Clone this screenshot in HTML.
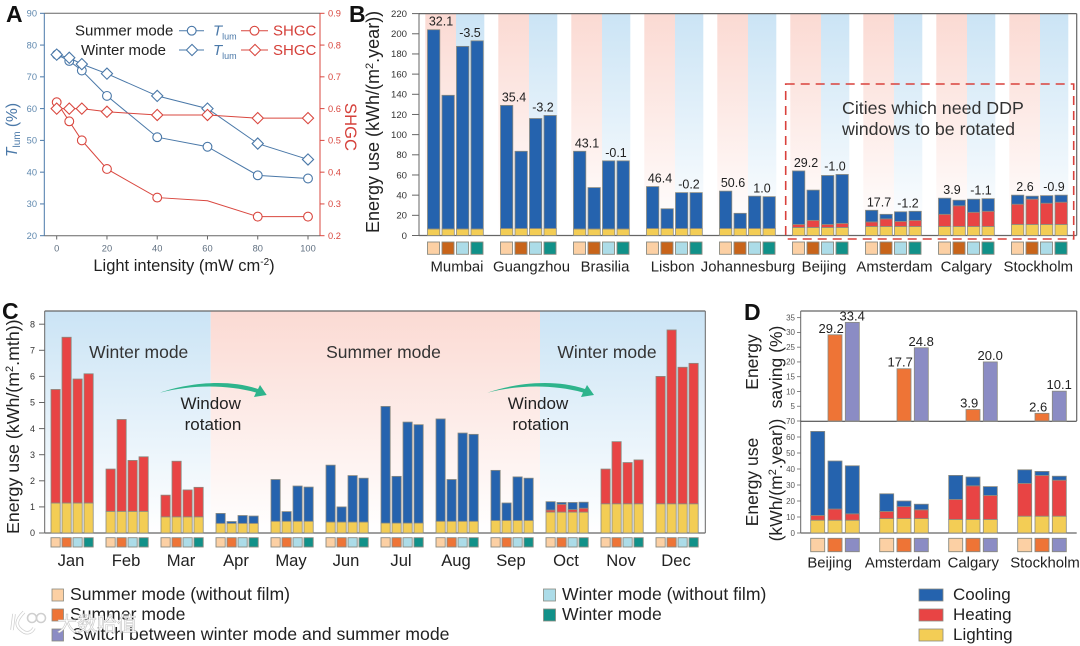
<!DOCTYPE html>
<html lang="en">
<head>
<meta charset="utf-8">
<title>Energy use of DDP windows</title>
<style>
html,body{margin:0;padding:0;background:#fff;}
svg{display:block;font-family:"Liberation Sans","Noto Sans CJK SC",sans-serif;filter:blur(0.35px);}
</style>
</head>
<body>
<svg id="fig" xmlns="http://www.w3.org/2000/svg" width="1080" height="646" viewBox="0 0 1080 646">
<defs>
<linearGradient id="pinkG" x1="0" y1="0" x2="0" y2="1"><stop offset="0" stop-color="#fbdad3"/><stop offset="1" stop-color="#ffffff"/></linearGradient>
<linearGradient id="blueG" x1="0" y1="0" x2="0" y2="1"><stop offset="0" stop-color="#cbe4f5"/><stop offset="1" stop-color="#ffffff"/></linearGradient>
</defs>
<g id="bgLayer"></g>
<g id="markLayer"></g>

<!-- panel letters -->
<text x="6" y="22" font-size="23" font-weight="bold" fill="#111">A</text>
<text x="349" y="22" font-size="23" font-weight="bold" fill="#111">B</text>
<text x="2" y="319" font-size="23" font-weight="bold" fill="#111">C</text>
<text x="744" y="320" font-size="23" font-weight="bold" fill="#111">D</text>

<!-- panel A text -->
<text x="184" y="271" text-anchor="middle" font-size="16.5" fill="#222">Light intensity (mW cm<tspan font-size="10" dy="-6">-2</tspan><tspan dy="6">)</tspan></text>
<text transform="translate(17,157) rotate(-90)" font-size="15.5" fill="#4a78a8"><tspan font-style="italic">T</tspan><tspan font-size="10" dy="3">lum</tspan><tspan dy="-3"> (%)</tspan></text>
<text transform="translate(345,127) rotate(90)" text-anchor="middle" font-size="16.6" fill="#d5403a">SHGC</text>
<text x="75" y="35.5" font-size="15" fill="#222">Summer mode</text>
<text x="81" y="55" font-size="15" fill="#222">Winter mode</text>
<text x="213" y="35.5" font-size="15" fill="#4a78a8"><tspan font-style="italic">T</tspan><tspan font-size="9" dy="4">lum</tspan></text>
<text x="213" y="55" font-size="15" fill="#4a78a8"><tspan font-style="italic">T</tspan><tspan font-size="9" dy="4">lum</tspan></text>
<text x="273" y="35.5" font-size="15" fill="#d5403a">SHGC</text>
<text x="273" y="55" font-size="15" fill="#d5403a">SHGC</text>

<!-- panel B text -->
<text transform="translate(379,233) rotate(-90)" font-size="18" fill="#222">Energy use (kWh/(m<tspan font-size="11" dy="-6">2</tspan><tspan dy="6">.year))</tspan></text>
<rect x="785.7" y="84" width="288" height="155" fill="none" stroke="#d9413c" stroke-width="1.6" stroke-dasharray="9 6"/>
<text font-size="17.8" fill="#333"><tspan x="842" y="114">Cities which need DDP</tspan><tspan x="842" y="135">windows to be rotated</tspan></text>

<!-- panel C text -->
<text transform="translate(19,534) rotate(-90)" font-size="17.8" fill="#222">Energy use (kWh/(m<tspan font-size="11" dy="-6">2</tspan><tspan dy="6">.mth))</tspan></text>
<text x="138.7" y="358" text-anchor="middle" font-size="17.5" fill="#333">Winter mode</text>
<text x="383.5" y="358" text-anchor="middle" font-size="17.5" fill="#333">Summer mode</text>
<text x="607" y="358" text-anchor="middle" font-size="17.5" fill="#333">Winter mode</text>
<text font-size="17" fill="#222" text-anchor="middle"><tspan x="210.7" y="409">Window</tspan><tspan x="213" y="430">rotation</tspan></text>
<text font-size="17" fill="#222" text-anchor="middle"><tspan x="538" y="409">Window</tspan><tspan x="540.7" y="430">rotation</tspan></text>
<path fill="#2eb48c" d="M160,392.7 C185,384 225,378 258,389 L260,385 L266.7,395 L254,397 L256,392.5 C225,384 190,385 160,392.7 Z"/>
<path fill="#2eb48c" d="M487.3,392.7 C512,384 552,378 585,389 L587,385 L594,395 L581,397 L583,392.5 C552,384 517,385 487.3,392.7 Z"/>

<!-- panel D text -->
<text transform="translate(758,362) rotate(-90)" text-anchor="middle" font-size="17.5" fill="#222">Energy</text>
<text transform="translate(782,367) rotate(-90)" text-anchor="middle" font-size="17.5" fill="#222">saving (%)</text>
<text transform="translate(758,482) rotate(-90)" text-anchor="middle" font-size="17.5" fill="#222">Energy use</text>
<text transform="translate(782,480) rotate(-90)" text-anchor="middle" font-size="17.5" fill="#222">(kWh/(m<tspan font-size="11" dy="-6">2</tspan><tspan dy="6">.year))</tspan></text>

<!-- legend -->
<rect x="52" y="589" width="11.5" height="12" fill="#fcd0a4" stroke="#8a8a80" stroke-width="0.8"/>
<text x="70" y="600" font-size="17.6" fill="#222">Summer mode (without film)</text>
<rect x="52" y="609" width="11.5" height="12" fill="#ee7436" stroke="#8a8a80" stroke-width="0.8"/>
<text x="70" y="620" font-size="17.6" fill="#222">Summer mode</text>
<rect x="52" y="629" width="11.5" height="12" fill="#8b8cc4" stroke="#8a8a80" stroke-width="0.8"/>
<text x="72" y="640" font-size="17.7" fill="#222">Switch between winter mode and summer mode</text>
<rect x="543.5" y="589" width="12" height="12" fill="#acdce8" stroke="#8a8a80" stroke-width="0.8"/>
<text x="562" y="600" font-size="17.6" fill="#222">Winter mode (without film)</text>
<rect x="543.5" y="609" width="12" height="12" fill="#119189" stroke="#8a8a80" stroke-width="0.8"/>
<text x="562" y="620" font-size="17.6" fill="#222">Winter mode</text>
<rect x="919" y="589" width="24" height="12" fill="#2563ae" stroke="#8a8a80" stroke-width="0.8"/>
<text x="953" y="600" font-size="17" fill="#222">Cooling</text>
<rect x="919" y="609" width="24" height="12" fill="#e84444" stroke="#8a8a80" stroke-width="0.8"/>
<text x="953" y="620" font-size="17" fill="#222">Heating</text>
<rect x="919" y="629" width="24" height="12" fill="#f3cd55" stroke="#8a8a80" stroke-width="0.8"/>
<text x="953" y="640" font-size="17" fill="#222">Lighting</text>

<!-- watermark -->
<g>
<path d="M14,614 L12,630 M24,612 C16,620 14,626 24,632 C28,634 32,632 34,628" fill="none" stroke="#cfcfcf" stroke-width="3.5"/>
<path d="M14,614 L12,630 M24,612 C16,620 14,626 24,632 C28,634 32,632 34,628" fill="none" stroke="#fff" stroke-width="2"/>
<circle cx="32" cy="618" r="4.5" fill="none" stroke="#cfcfcf" stroke-width="1.6"/>
<circle cx="41" cy="618" r="4.5" fill="none" stroke="#cfcfcf" stroke-width="1.6"/>
<text x="57" y="631" font-size="20" fill="#fff" stroke="#c4c4c4" stroke-width="0.6">大数哈值</text>
</g>
</svg>

<script>
// Panel A data
var aIntensity = [0, 5, 10, 20, 40, 60, 80, 100];
var aTickX = [0, 20, 40, 60, 80, 100];
var aTickLeft = [20, 30, 40, 50, 60, 70, 80, 90];
var aTickRight = ['0.2', '0.3', '0.4', '0.5', '0.6', '0.7', '0.8', '0.9'];
var aSummerT = [77, 75, 72, 64, 51, 48, 39, 38];
var aWinterT = [77, 76, 74, 71, 64, 60, 49, 44];
var aSummerS = [0.62, 0.56, 0.50, 0.41, 0.32, 0.31, 0.26, 0.26];
var aWinterS = [0.60, 0.60, 0.60, 0.59, 0.58, 0.58, 0.57, 0.57];

// Panel B data
var bCities = ['Mumbai', 'Guangzhou', 'Brasilia', 'Lisbon', 'Johannesburg', 'Beijing', 'Amsterdam', 'Calgary', 'Stockholm'];
var bTicks = [0, 20, 40, 60, 80, 100, 120, 140, 160, 180, 200, 220];
var bLighting = [6.5, 7, 6.5, 7, 7, 8, 9, 9, 11];
var bHeating = [[0,0,0,0],[0,0,0,0],[0,0,0,0],[0,0,0,0],[0,0,0,0],[3,7,3,4],[4.5,7.5,5,6],[12,20.5,14,15],[20,25,21,22]];
var bCooling = [[197.5,132.5,181,186.5],[122,76.5,109,112],[77,41,67.5,67.5],[41.5,19.5,35.5,35.5],[37,15,32,31.5],[53,30,48.5,48.5],[11.5,4.5,9.5,9],[16,5.5,13,12.5],[9,3,7.5,7]];
var bSaveLabels = ['32.1', '35.4', '43.1', '46.4', '50.6', '29.2', '17.7', '3.9', '2.6'];
var bDeltaLabels = ['-3.5', '-3.2', '-0.1', '-0.2', '1.0', '-1.0', '-1.2', '-1.1', '-0.9'];

// Panel C data
var cMonths = ['Jan', 'Feb', 'Mar', 'Apr', 'May', 'Jun', 'Jul', 'Aug', 'Sep', 'Oct', 'Nov', 'Dec'];
var cTicks = [0, 1, 2, 3, 4, 5, 6, 7, 8];
var cLighting = [1.15, 0.83, 0.62, 0.37, 0.45, 0.42, 0.38, 0.45, 0.48, 0.8, 1.12, 1.12];
var cHeating = [[4.35,6.35,4.75,4.95],[1.62,3.52,1.95,2.09],[0.83,2.13,1.03,1.13],[0,0,0,0],[0,0,0,0],[0,0,0,0],[0,0,0,0],[0,0,0,0],[0,0,0,0],[0.08,0.3,0.1,0.15],[1.33,2.38,1.58,1.68],[4.88,6.66,5.23,5.38]];
var cCooling = [[0,0,0,0],[0,0,0,0],[0,0,0,0],[0.38,0.07,0.3,0.28],[1.6,0.37,1.35,1.31],[2.18,0.58,1.78,1.68],[4.47,1.79,3.87,3.77],[3.92,1.6,3.38,3.33],[1.92,0.67,1.67,1.62],[0.32,0.07,0.27,0.23],[0,0,0,0],[0,0,0,0]];

// Panel D data
var dCities = ['Beijing', 'Amsterdam', 'Calgary', 'Stockholm'];
var dTicksTop = [5, 10, 15, 20, 25, 30, 35];
var dTicksBottom = [0, 10, 20, 30, 40, 50, 60, 70];
var dSaveSummer = [29.2, 17.7, 3.9, 2.6];
var dSaveSwitch = [33.4, 24.8, 20.0, 10.1];
var dLighting = [8, 9, 8.5, 10.5];
var dHeating = [[3,7,4],[4.5,7.5,5.5],[12.5,21,15],[20.5,25.5,22.5]];
var dCooling = [[52.5,30,30],[11,3.5,3.5],[15,5.5,5.5],[8.5,2.5,2.5]];

// Colours
var COOL = '#2563ae', HEAT = '#e84444', LIGHT = '#f3cd55', EDGE = '#8a8a80';
var SW_B = ['#fcd0a4', '#c8641a', '#acdce8', '#119189'];
var SW_C = ['#fcd0a4', '#ee7436', '#acdce8', '#119189'];
var SW_D = ['#fcd0a4', '#ee7436', '#8b8cc4'];
var A_BLUE = '#4a78a8', A_BLUE_TXT = '#5f88ae', A_RED = '#d9473f', AXIS = '#666';

var NS = 'http://www.w3.org/2000/svg';
var bg = document.getElementById('bgLayer');
var layer = document.getElementById('markLayer');

function mk(tag, attrs, parent) {
  var el = document.createElementNS(NS, tag);
  for (var k in attrs) el.setAttribute(k, attrs[k]);
  (parent || layer).appendChild(el);
  return el;
}
function line(x1, y1, x2, y2, color, w, name) {
  var el = mk('line', {x1: x1, y1: y1, x2: x2, y2: y2, stroke: color, 'stroke-width': w});
  
  
  return el;
}
function label(x, y, s, size, color, anchor, name) {
  var el = mk('text', {x: x, y: y, 'font-size': size, fill: color, 'text-anchor': anchor});
  el.textContent = s;
  
  
  return el;
}
function bgRect(x, y, w, h, grad, name) {
  var el = mk('rect', {x: x, y: y, width: w, height: h, fill: 'url(#' + grad + ')'}, bg);
  
  
  return el;
}
function segment(x, w, y0, y1, fill, name) {
  var el = mk('rect', {x: x, y: y1, width: w, height: Math.max(0, y0 - y1), fill: fill, stroke: EDGE, 'stroke-width': 0.8});
  
  
  return el;
}
function swatch(x, y, w, h, fill, name) {
  var el = mk('rect', {x: x, y: y, width: w, height: h, fill: fill, stroke: EDGE, 'stroke-width': 0.9});
  
  
  return el;
}
function stack(x, w, yFn, l, h, c, name) {
  segment(x, w, yFn(0), yFn(l), LIGHT, name + '-lighting');
  if (h > 0) segment(x, w, yFn(l), yFn(l + h), HEAT, name + '-heating');
  if (c > 0) segment(x, w, yFn(l + h), yFn(l + h + c), COOL, name + '-cooling');
}

/* ---------- Panel A ---------- */
function ax(v) { return 56.7 + (v / 100) * 251.3; }
function ayL(v) { return 235.7 - ((v - 20) / 70) * 222.4; }
function ayR(v) { return 235.7 - ((v - 0.2) / 0.7) * 222.4; }

line(44.3, 13.3, 44.3, 235.7, A_BLUE, 1, 'a-left-axis');
line(320, 13.3, 320, 235.7, A_RED, 1, 'a-right-axis');
line(44.3, 13.3, 320, 13.3, AXIS, 1, 'a-top-axis');
line(44.3, 235.7, 320, 235.7, AXIS, 1, 'a-bottom-axis');
aTickLeft.forEach(function (t) {
  line(40, ayL(t), 44.3, ayL(t), A_BLUE, 1, 'a-left-tick');
  label(37, ayL(t) + 3.3, t, 9.3, A_BLUE_TXT, 'end', 'a-left-tick-label');
});
aTickRight.forEach(function (t) {
  line(320, ayR(+t), 324.5, ayR(+t), A_RED, 1, 'a-right-tick');
  label(328, ayR(+t) + 3.3, t, 9.3, A_RED, 'start', 'a-right-tick-label');
});
aTickX.forEach(function (t) {
  line(ax(t), 235.7, ax(t), 239.5, AXIS, 1, 'a-x-tick');
  label(ax(t), 251.5, t, 9.3, '#5f6f80', 'middle', 'a-x-tick-label');
});

function pathFrom(xs, ys, xFn, yFn) {
  return xs.map(function (x, i) { return (i ? 'L' : 'M') + xFn(x).toFixed(2) + ',' + yFn(ys[i]).toFixed(2); }).join(' ');
}
function drawCircle(cx, cy, color, name) {
  var el = mk('circle', {cx: cx, cy: cy, r: 4.4, fill: '#fff', stroke: color, 'stroke-width': 1.1});
  
  
}
function drawDiamond(cx, cy, color, name) {
  var r = 5.6;
  var pts = (cx - r) + ',' + cy + ' ' + cx + ',' + (cy - r) + ' ' + (cx + r) + ',' + cy + ' ' + cx + ',' + (cy + r);
  var el = mk('polygon', {points: pts, fill: '#fff', stroke: color, 'stroke-width': 1.1});
  
  
}

var summerTLine = mk('path', {d: pathFrom(aIntensity, aSummerT, ax, ayL), fill: 'none', stroke: A_BLUE, 'stroke-width': 1});


aIntensity.forEach(function (x, i) { drawCircle(ax(x), ayL(aSummerT[i]), A_BLUE, 'summer-tlum-point'); });

var summerSLine = mk('path', {d: pathFrom(aIntensity, aSummerS, ax, ayR), fill: 'none', stroke: A_RED, 'stroke-width': 1});


aIntensity.forEach(function (x, i) {
  if (x !== 60) drawCircle(ax(x), ayR(aSummerS[i]), A_RED, 'summer-shgc-point');
});

var winterTLine = mk('path', {d: pathFrom(aIntensity, aWinterT, ax, ayL), fill: 'none', stroke: A_BLUE, 'stroke-width': 1});


aIntensity.forEach(function (x, i) { drawDiamond(ax(x), ayL(aWinterT[i]), A_BLUE, 'winter-tlum-point'); });

var winterSLine = mk('path', {d: pathFrom(aIntensity, aWinterS, ax, ayR), fill: 'none', stroke: A_RED, 'stroke-width': 1});


aIntensity.forEach(function (x, i) { drawDiamond(ax(x), ayR(aWinterS[i]), A_RED, 'winter-shgc-point'); });

line(179, 30.7, 204, 30.7, A_BLUE, 1, 'a-legend-summer-tlum-line');
drawCircle(191.7, 30.7, A_BLUE, 'a-legend-summer-tlum-marker');
line(241, 30.7, 268, 30.7, A_RED, 1, 'a-legend-summer-shgc-line');
drawCircle(254.5, 30.7, A_RED, 'a-legend-summer-shgc-marker');
line(179, 50, 204, 50, A_BLUE, 1, 'a-legend-winter-tlum-line');
drawDiamond(192, 50, A_BLUE, 'a-legend-winter-tlum-marker');
line(241, 50, 268, 50, A_RED, 1, 'a-legend-winter-shgc-line');
drawDiamond(255, 50, A_RED, 'a-legend-winter-shgc-marker');

/* ---------- Panel B ---------- */
function by(v) { return 235.5 - (v / 220) * 221.9; }
function bGroupX(i) { return 427.5 + i * 73; }
bCities.forEach(function (c, i) {
  var x = bGroupX(i);
  bgRect(x - 2.2, 13.6, 30.7, 221.9, 'pinkG', 'b-summer-band');
  bgRect(x + 28.5, 13.6, 28.3, 221.9, 'blueG', 'b-winter-band');
});
line(419, 13.6, 419, 235.5, AXIS, 1, 'b-left-axis');
line(419, 13.6, 1076.7, 13.6, AXIS, 1.2, 'b-top-axis');
line(1076.7, 13.6, 1076.7, 235.5, AXIS, 1.2, 'b-right-axis');
line(419, 235.5, 1076.7, 235.5, AXIS, 1.2, 'b-bottom-axis');
bTicks.forEach(function (t) {
  line(412, by(t), 419, by(t), AXIS, 1, 'b-y-tick');
  label(407, by(t) + 3.3, t, 9.6, '#333', 'end', 'b-y-tick-label');
});
bCities.forEach(function (c, i) {
  var x0 = bGroupX(i);
  var tops = [];
  for (var j = 0; j < 4; j++) {
    var x = x0 + j * 14.5;
    stack(x, 12.3, by, bLighting[i], bHeating[i][j], bCooling[i][j], 'b-bar-' + c.toLowerCase() + '-' + (j + 1));
    swatch(x, 242, 12, 12.3, SW_B[j], 'b-mode-swatch');
    tops.push(bLighting[i] + bHeating[i][j] + bCooling[i][j]);
  }
  label(x0 + 13.5, by(tops[0]) - 4, bSaveLabels[i], 12.5, '#222', 'middle', 'b-saving-label');
  label(x0 + 42.5, by(tops[3]) - 4, bDeltaLabels[i], 12.5, '#222', 'middle', 'b-delta-label');
});
var bLabelCenter = [457, 531.5, 605, 672.7, 748, 824, 894.5, 966.3, 1038.3];
bCities.forEach(function (c, i) {
  label(bLabelCenter[i], 271.5, c, 14.9, '#222', 'middle', 'b-city-label');
});

/* ---------- Panel C ---------- */
function cy(v) { return 533 - v * 26.1; }
function cGroupX(i) { return 51 + i * 55; }
bgRect(44.7, 311, 166, 222, 'blueG', 'c-winter-band-left');
bgRect(210.7, 311, 329.3, 222, 'pinkG', 'c-summer-band');
bgRect(540, 311, 165.3, 222, 'blueG', 'c-winter-band-right');
line(44.7, 311, 705.3, 311, AXIS, 1.2, 'c-top-axis');
line(44.7, 311, 44.7, 533, AXIS, 1, 'c-left-axis');
line(705.3, 311, 705.3, 533, AXIS, 1, 'c-right-axis');
line(44.7, 533, 705.3, 533, AXIS, 1.2, 'c-bottom-axis');
cTicks.forEach(function (t) {
  line(39, cy(t), 44.7, cy(t), AXIS, 1, 'c-y-tick');
  label(35, cy(t) + 3.2, t, 9, '#333', 'end', 'c-y-tick-label');
});
cMonths.forEach(function (m, i) {
  var x0 = cGroupX(i);
  for (var j = 0; j < 4; j++) {
    var x = x0 + j * 11;
    stack(x, 9.2, cy, cLighting[i], cHeating[i][j], cCooling[i][j], 'c-bar-' + m.toLowerCase() + '-' + (j + 1));
    swatch(x, 537.7, 9.2, 9.3, SW_C[j], 'c-mode-swatch');
  }
  label(x0 + 20, 566, m, 16.6, '#222', 'middle', 'c-month-label');
});

/* ---------- Panel D ---------- */
function dyTop(v) { return 421 - v * 2.953; }
function dyBot(v) { return 533 - v * 1.6; }
function dGroupX(i) { return 810.7 + i * 69; }
line(800.7, 311, 1076.7, 311, AXIS, 1.2, 'd-top-axis');
line(1076.7, 311, 1076.7, 421, AXIS, 1.2, 'd-right-axis');
line(800.7, 311, 800.7, 533, AXIS, 1, 'd-left-axis');
line(800.7, 421.2, 1076.7, 421.2, '#333', 1, 'd-divider');
line(800.7, 533, 1076.7, 533, AXIS, 1.2, 'd-bottom-axis');
dTicksTop.forEach(function (t) {
  line(797, dyTop(t), 800.7, dyTop(t), AXIS, 0.8, 'd-top-y-tick');
  label(795, dyTop(t) + 2.8, t, 8, '#555', 'end', 'd-top-y-tick-label');
});
dTicksBottom.forEach(function (t) {
  line(797, dyBot(t), 800.7, dyBot(t), AXIS, 0.8, 'd-bottom-y-tick');
  label(795, dyBot(t) + 2.8, t, 8, '#555', 'end', 'd-bottom-y-tick-label');
});
dCities.forEach(function (c, i) {
  var x0 = dGroupX(i);
  for (var j = 0; j < 3; j++) {
    var x = x0 + j * 17.3;
    stack(x, 14, dyBot, dLighting[i], dHeating[i][j], dCooling[i][j], 'd-bar-' + c.toLowerCase() + '-' + (j + 1));
    swatch(x, 538.3, 14, 13.4, SW_D[j], 'd-mode-swatch');
  }
  segment(x0 + 17.3, 14, dyTop(0), dyTop(dSaveSummer[i]), SW_D[1], 'd-saving-summer-' + c.toLowerCase());
  segment(x0 + 34.6, 14, dyTop(0), dyTop(dSaveSwitch[i]), SW_D[2], 'd-saving-switch-' + c.toLowerCase());
  label(x0 + 20.5, dyTop(dSaveSummer[i]) - 2, dSaveSummer[i].toFixed(1), 13, '#222', 'middle', 'd-saving-summer-label');
  label(x0 + 41.5, dyTop(dSaveSwitch[i]) - 2, dSaveSwitch[i].toFixed(1), 13, '#222', 'middle', 'd-saving-switch-label');
});
var dLabelCenter = [829.7, 903, 973.3, 1045];
dCities.forEach(function (c, i) {
  label(dLabelCenter[i], 567.5, c, 14.9, '#222', 'middle', 'd-city-label');
});
</script>
</body>
</html>
